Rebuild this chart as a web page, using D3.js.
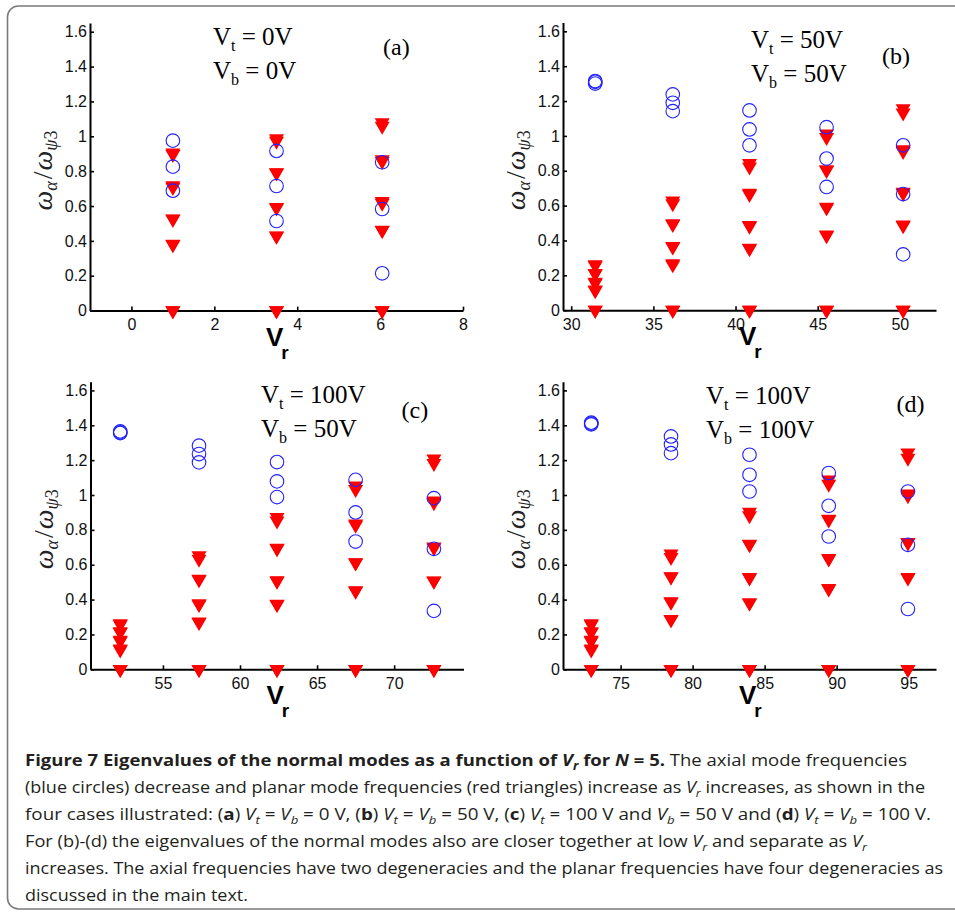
<!DOCTYPE html>
<html><head><meta charset="utf-8">
<script src="https://cdn.jsdelivr.net/npm/d3@7/dist/d3.min.js"></script>
<style>body{margin:0;background:#fff}</style>
</head><body>
<svg id="fig" width="955" height="912" xmlns="http://www.w3.org/2000/svg"></svg>
<script>
// ---------------- data ----------------
const panelTags = ["(a)", "(b)", "(c)", "(d)"];
const vtText = ["0V", "50V", "100V", "100V"];
const vbText = ["0V", "50V", "50V", "100V"];
const yTicks = [0, 0.2, 0.4, 0.6, 0.8, 1, 1.2, 1.4, 1.6];
const xTicksA = [0, 2, 4, 6, 8];
const xTicksB = [30, 35, 40, 45, 50];
const xTicksC = [55, 60, 65, 70];
const xTicksD = [75, 80, 85, 90, 95];
const xLimA = [-1, 8], xLimB = [29.5, 52.2], xLimC = [50.3, 74.5], xLimD = [71, 96.9];
const yLim = [0, 1.65];

// Panel (a): Vt = Vb = 0 V
const vrA = [1.0, 3.5, 6.05];
const axialA = [[0.975, 0.826, 0.688], [0.916, 0.715, 0.514], [0.851, 0.583, 0.214]];
const planarA = [
  [0, 0, 0.379, 0.382, 0.525, 0.527, 0.707, 0.717, 0.897, 0.905],
  [0, 0, 0.427, 0.429, 0.589, 0.592, 0.79, 0.792, 0.972, 0.987],
  [0, 0, 0.461, 0.462, 0.617, 0.627, 0.857, 0.867, 1.058, 1.078]
];
// Panel (b): Vt = Vb = 50 V
const vrB = [31.46, 36.18, 40.85, 45.54, 50.2];
const axialB = [[1.30, 1.31, 1.315], [1.238, 1.19, 1.142], [1.146, 1.037, 0.946], [1.05, 0.87, 0.707], [0.946, 0.666, 0.32]];
const planarB = [
  [0, 0, 0.112, 0.117, 0.156, 0.162, 0.208, 0.212, 0.256, 0.262],
  [0, 0, 0.261, 0.267, 0.363, 0.367, 0.492, 0.497, 0.612, 0.627],
  [0, 0, 0.354, 0.357, 0.482, 0.487, 0.665, 0.672, 0.822, 0.842],
  [0, 0, 0.428, 0.432, 0.588, 0.592, 0.802, 0.807, 0.992, 1.012],
  [0, 0, 0.486, 0.49, 0.67, 0.677, 0.912, 0.922, 1.132, 1.157]
];
// Panel (c): Vt = 100 V, Vb = 50 V
const vrC = [52.23, 57.34, 62.4, 67.5, 72.58];
const axialC = [[1.355, 1.36, 1.365], [1.283, 1.235, 1.187], [1.189, 1.078, 0.988], [1.087, 0.90, 0.733], [0.982, 0.691, 0.335]];
const planarC = [
  [0, 0, 0.112, 0.117, 0.162, 0.167, 0.212, 0.217, 0.257, 0.262],
  [0, 0, 0.27, 0.272, 0.372, 0.377, 0.515, 0.517, 0.632, 0.652],
  [0, 0, 0.372, 0.374, 0.506, 0.509, 0.692, 0.695, 0.852, 0.872],
  [0, 0, 0.449, 0.452, 0.611, 0.612, 0.827, 0.834, 1.032, 1.052],
  [0, 0, 0.506, 0.508, 0.697, 0.702, 0.957, 0.967, 1.182, 1.207]
];
// Panel (d): Vt = Vb = 100 V
const vrD = [72.96, 78.5, 83.95, 89.45, 94.95];
const axialD = [[1.405, 1.41, 1.415], [1.336, 1.29, 1.24], [1.231, 1.116, 1.02], [1.126, 0.938, 0.762], [1.02, 0.714, 0.346]];
const planarD = [
  [0, 0, 0.112, 0.117, 0.162, 0.167, 0.212, 0.217, 0.257, 0.262],
  [0, 0, 0.285, 0.287, 0.385, 0.388, 0.531, 0.532, 0.642, 0.662],
  [0, 0, 0.381, 0.382, 0.525, 0.527, 0.716, 0.718, 0.882, 0.902],
  [0, 0, 0.462, 0.464, 0.634, 0.637, 0.857, 0.862, 1.062, 1.087],
  [0, 0, 0.525, 0.527, 0.726, 0.728, 0.997, 1.007, 1.212, 1.242]
];

// caption lines (segments: text, bold, italic, subscript)
const captionLines = [
  [["Figure 7  Eigenvalues of the normal modes as a function of ", 1, 0, 0], ["V", 1, 1, 0], ["r", 1, 1, 1], [" for ", 1, 0, 0], ["N", 1, 1, 0], [" = 5.", 1, 0, 0], [" The axial mode frequencies", 0, 0, 0]],
  [["(blue circles) decrease and planar mode frequencies (red triangles) increase as ", 0, 0, 0], ["V", 0, 1, 0], ["r", 0, 1, 1], [" increases, as shown in the", 0, 0, 0]],
  [["four cases illustrated: (", 0, 0, 0], ["a", 1, 0, 0], [") ", 0, 0, 0], ["V", 0, 1, 0], ["t", 0, 1, 1], [" = ", 0, 0, 0], ["V", 0, 1, 0], ["b", 0, 1, 1], [" = 0 V, (", 0, 0, 0], ["b", 1, 0, 0], [") ", 0, 0, 0], ["V", 0, 1, 0], ["t", 0, 1, 1], [" = ", 0, 0, 0], ["V", 0, 1, 0], ["b", 0, 1, 1], [" = 50 V, (", 0, 0, 0], ["c", 1, 0, 0], [") ", 0, 0, 0], ["V", 0, 1, 0], ["t", 0, 1, 1], [" = 100 V and ", 0, 0, 0], ["V", 0, 1, 0], ["b", 0, 1, 1], [" = 50 V and (", 0, 0, 0], ["d", 1, 0, 0], [") ", 0, 0, 0], ["V", 0, 1, 0], ["t", 0, 1, 1], [" = ", 0, 0, 0], ["V", 0, 1, 0], ["b", 0, 1, 1], [" = 100 V.", 0, 0, 0]],
  [["For (b)-(d) the eigenvalues of the normal modes also are closer together at low ", 0, 0, 0], ["V", 0, 1, 0], ["r", 0, 1, 1], [" and separate as ", 0, 0, 0], ["V", 0, 1, 0], ["r", 0, 1, 1]],
  [["increases. The axial frequencies have two degeneracies and the planar frequencies have four degeneracies as", 0, 0, 0]],
  [["discussed in the main text.", 0, 0, 0]]
];

// ---------------- layout ----------------
const panels = [
  {vr: vrA, axial: axialA, planar: planarA, ticks: xTicksA, lim: xLimA, left: 90, bottom: 310.6},
  {vr: vrB, axial: axialB, planar: planarB, ticks: xTicksB, lim: xLimB, left: 563, bottom: 310.2},
  {vr: vrC, axial: axialC, planar: planarC, ticks: xTicksC, lim: xLimC, left: 90.5, bottom: 669.3},
  {vr: vrD, axial: axialD, planar: planarD, ticks: xTicksD, lim: xLimD, left: 563, bottom: 669.3}
];
const plotW = 373, pxPerUnit = 174.3;
const captionBase = 766, captionStep = 27, captionX = 25;
const captionWidths = [882, 900, 906, 842, 918, 223];

const svg = d3.select("#fig");

// frame
svg.append("rect").attr("x", 7.5).attr("y", 6).attr("width", 980).attr("height", 903)
  .attr("rx", 11).attr("fill", "none").attr("stroke", "#7a7a7a").attr("stroke-width", 1.6);

// downward triangle centred on its circumcentre (MATLAB 'v' marker)
const triPath = "M-7.5,-4.33L7.5,-4.33L0,8.66Z";

panels.forEach((p, i) => {
  const x = d3.scaleLinear().domain(p.lim).range([p.left, p.left + plotW]);
  const y = d3.scaleLinear().domain(yLim).range([p.bottom, p.bottom - (yLim[1] - yLim[0]) * pxPerUnit]);
  const g = svg.append("g");

  // axes
  const xa = g.append("g").attr("transform", `translate(0,${p.bottom})`)
    .call(d3.axisBottom(x).tickValues(p.ticks).tickSizeInner(-4).tickSizeOuter(0).tickPadding(8).tickFormat(d3.format("d")));
  const ya = g.append("g").attr("transform", `translate(${p.left},0)`)
    .call(d3.axisLeft(y).tickValues(yTicks).tickSizeInner(-4).tickSizeOuter(0).tickPadding(3)
      .tickFormat(d => d === 0 ? "0" : String(+d.toFixed(1))));
  [xa, ya].forEach(a => {
    a.select(".domain").attr("stroke", "#000").attr("stroke-width", 2);
    a.selectAll(".tick line").attr("stroke", "#000").attr("stroke-width", 1.6);
    a.selectAll(".tick text").attr("fill", "#111").style("font-family", "'Liberation Sans', Arial, sans-serif").style("font-size", "16px");
  });

  // markers: planar (red triangles) first, axial (blue circles) on top
  const tri = [], circ = [];
  p.vr.forEach((v, k) => {
    p.planar[k].forEach(w => tri.push([v, w]));
    p.axial[k].forEach(w => circ.push([v, w]));
  });
  g.append("g").selectAll("path").data(tri).join("path")
    .attr("d", triPath).attr("transform", d => `translate(${x(d[0])},${y(d[1])})`)
    .attr("fill", "#ff0000").attr("stroke", "none");
  g.append("g").selectAll("circle").data(circ).join("circle")
    .attr("cx", d => x(d[0])).attr("cy", d => y(d[1])).attr("r", 6.8)
    .attr("fill", "none").attr("stroke", "#2222ff").attr("stroke-width", 1.1);

  // x label V_r
  const cx = p.left + plotW / 2;
  const xl = g.append("text").attr("x", cx - 10.5).attr("y", p.bottom + 35)
    .style("font-family", "'Liberation Sans', Arial, sans-serif").style("font-weight", "bold").attr("fill", "#000");
  xl.append("tspan").style("font-size", "26px").text("V");
  xl.append("tspan").style("font-size", "19px").attr("dx", -2).attr("dy", 13).text("r");

  // y label  ω_α / ω_ψ3
  const yc = p.bottom - 140;
  const yl = g.append("text").attr("transform", `translate(${p.left - 38},${yc}) rotate(-90)`)
    .attr("text-anchor", "middle").attr("fill", "#222")
    .style("font-family", "'Liberation Serif', 'DejaVu Serif', serif").style("font-style", "italic").style("font-size", "28px");
  yl.append("tspan").text("ω");
  yl.append("tspan").style("font-size", "18px").attr("dy", 5).text("α");
  yl.append("tspan").attr("dy", -5).attr("dx", 2).style("font-style", "normal").text("/");
  yl.append("tspan").attr("dx", 1).text("ω");
  yl.append("tspan").style("font-size", "18px").attr("dy", 5).text("ψ");
  yl.append("tspan").style("font-size", "18px").style("font-style", "normal").text("3");

  // annotations
  const annX = [213, 751, 261, 706][i];
  const annY = [44.5, 48.3, 403.3, 404.3][i];
  const tagX = [383, 882, 401.5, 896.5][i];
  const tagY = [54.5, 64, 417.5, 411.5][i];
  const serif = "'Liberation Serif', 'Times New Roman', serif";
  [["t", vtText[i], annY], ["b", vbText[i], annY + 34]].forEach(([s, val, yy]) => {
    const t = g.append("text").attr("x", annX).attr("y", yy).attr("fill", "#000")
      .style("font-family", serif).style("font-size", "25px");
    t.append("tspan").text("V");
    t.append("tspan").style("font-size", "16px").attr("dy", 6).text(s);
    t.append("tspan").attr("dy", -6).text(" = " + val);
  });
  g.append("text").attr("x", tagX).attr("y", tagY).attr("fill", "#000")
    .style("font-family", serif).style("font-size", "24px").text(panelTags[i]);
});

// caption
captionLines.forEach((segs, li) => {
  const t = svg.append("text").attr("x", captionX).attr("y", captionBase + li * captionStep)
    .attr("fill", "#231f20")
    .style("font-family", "'Open Sans', 'Noto Sans', sans-serif").style("font-size", "16.5px")
    .attr("textLength", captionWidths[li]).attr("lengthAdjust", "spacingAndGlyphs");
  let shifted = false;
  segs.forEach(([txt, b, it, sub]) => {
    const ts = t.append("tspan").text(txt)
      .style("font-weight", b ? "bold" : "normal")
      .style("font-style", it ? "italic" : "normal");
    if (sub && !shifted) { ts.attr("dy", 4).style("font-size", "11.5px"); shifted = true; }
    else if (!sub && shifted) { ts.attr("dy", -4); shifted = false; }
    else if (sub) ts.style("font-size", "11.5px");
  });
});
</script>
</body></html>
